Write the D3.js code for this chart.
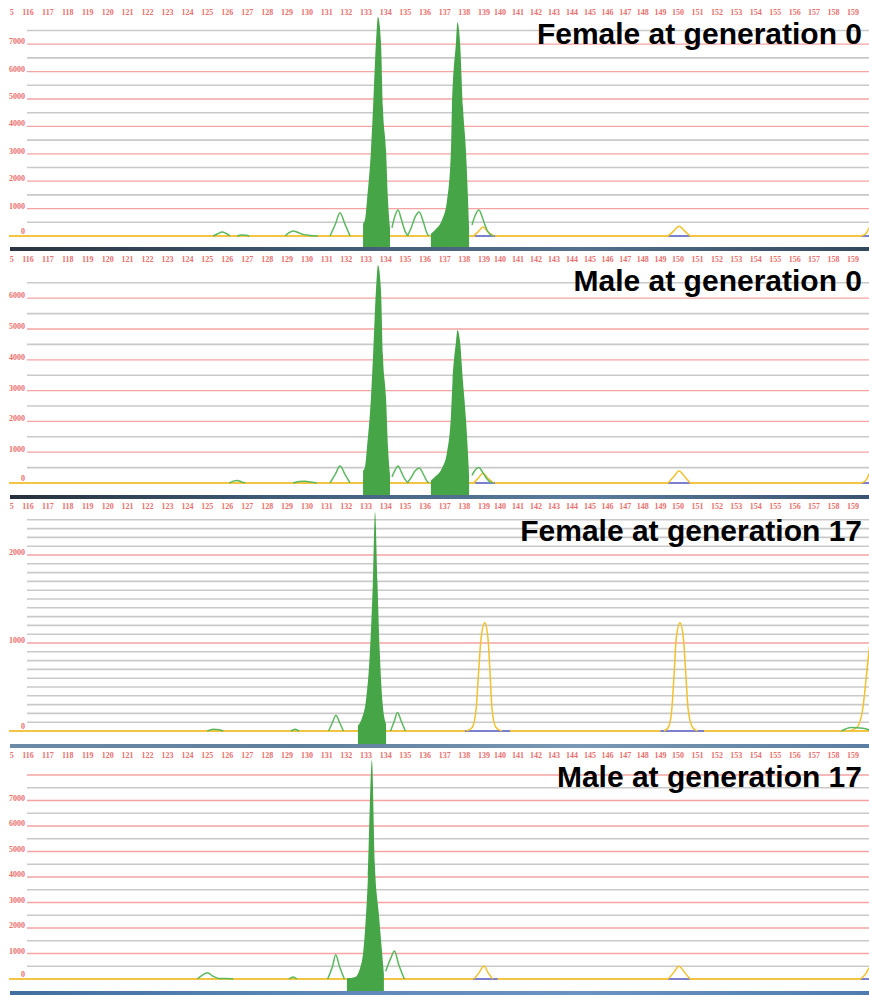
<!DOCTYPE html>
<html>
<head>
<meta charset="utf-8">
<script src="https://cdn.jsdelivr.net/npm/d3@7"></script>
<style>
  body { margin: 0; background: #fff; }
  svg { display: block; }
</style>
</head>
<body>
<div id="chart"></div>
<script>
// bp labels along the top of every panel
const tickLabels = [115,116,117,118,119,120,121,122,123,124,125,126,127,128,129,130,131,132,133,134,135,136,137,
  138,139,140,141,142,143,144,145,146,147,148,149,150,151,152,153,154,155,156,157,158,159];

const panelTitles = ["Female at generation 0", "Male at generation 0", "Female at generation 17", "Male at generation 17"];

// labelled RFU values on the left of each panel
const yLabels = [
  [0, 1000, 2000, 3000, 4000, 5000, 6000, 7000],
  [0, 1000, 2000, 3000, 4000, 5000, 6000],
  [0, 1000, 2000],
  [0, 1000, 2000, 3000, 4000, 5000, 6000, 7000]
];

// ---- Female gen 0 ----
const f0Filled = [
  [[132.85,450],[132.95,600],[133.05,1300],[133.25,3100],[133.36,4700],[133.51,7100],[133.61,8000],[133.76,7100],[133.86,4700],[134.02,3100],[134.12,1300],[134.22,300]],
  [[136.3,80],[136.51,220],[136.86,580],[137.12,1300],[137.32,3140],[137.37,4700],[137.58,7100],[137.65,7800],[137.78,7100],[137.93,4700],[138.08,3140],[138.19,1300],[138.24,300]]
];
const f0Green = [
  [[125.29,0],[125.55,90],[125.74,150],[125.95,90],[126.14,0]],
  [[126.5,0],[126.7,40],[126.95,30],[127.1,0]],
  [[128.9,0],[129.1,120],[129.3,180],[129.55,130],[129.8,60],[130.15,20],[130.55,0]],
  [[131.17,0],[131.45,450],[131.68,850],[131.92,450],[132.19,0]],
  [[134.32,300],[134.48,750],[134.63,950],[134.8,600],[135.0,150],[135.15,0]],
  [[135.1,0],[135.3,300],[135.5,700],[135.71,880],[135.92,500],[136.1,100],[136.2,0]],
  [[138.39,400],[138.55,750],[138.74,950],[138.95,600],[139.2,200],[139.45,30],[139.56,0]]
];
const f0Yellow = [
  [[138.45,0],[138.7,150],[138.95,330],[139.25,150],[139.6,0]],
  [[149.43,0],[149.75,180],[150.05,360],[150.35,180],[150.62,0]],
  [[159.45,0],[159.7,120],[159.83,290],[160.0,420]]
];
const f0Blue = [[138.55,139.69],[149.43,150.62],[159.45,160.5]];

// ---- Male gen 0 ----
const m0Filled = [
  [[132.85,400],[132.95,530],[133.05,1150],[133.25,2750],[133.36,4150],[133.51,6300],[133.61,7080],[133.76,6300],[133.86,4150],[134.02,2750],[134.12,1150],[134.22,270]],
  [[136.3,80],[136.51,200],[136.86,480],[137.12,1000],[137.32,2200],[137.4,3300],[137.58,4600],[137.65,4970],[137.78,4600],[137.93,3300],[138.08,2100],[138.19,900],[138.24,250]]
];
const m0Green = [
  [[126.1,0],[126.3,60],[126.5,80],[126.7,40],[126.9,0]],
  [[129.3,0],[129.6,50],[129.9,60],[130.2,30],[130.5,0]],
  [[131.17,0],[131.45,300],[131.68,550],[131.92,300],[132.19,0]],
  [[134.32,200],[134.48,420],[134.63,550],[134.8,350],[135.0,100],[135.15,0]],
  [[135.1,0],[135.3,180],[135.5,400],[135.71,490],[135.92,280],[136.1,60],[136.2,0]],
  [[138.39,250],[138.55,420],[138.74,500],[138.95,330],[139.2,120],[139.45,20],[139.56,0]]
];
const m0Yellow = [
  [[138.45,0],[138.7,150],[138.95,320],[139.25,150],[139.6,0]],
  [[149.43,0],[149.75,200],[150.05,390],[150.35,200],[150.62,0]],
  [[159.45,0],[159.7,120],[159.83,290],[160.0,420]]
];
const m0Blue = [[138.55,139.69],[149.43,150.62],[159.45,160.5]];

// ---- Female gen 17 ----
const f17Filled = [
  [[132.59,60],[132.8,150],[133.0,350],[133.2,900],[133.35,1700],[133.46,2490],[133.58,1700],[133.7,900],[133.85,300],[134.02,80]]
];
const f17Green = [
  [[125.0,0],[125.3,20],[125.6,15],[125.8,0]],
  [[129.2,0],[129.4,20],[129.6,0]],
  [[131.1,0],[131.3,100],[131.47,180],[131.65,100],[131.85,0]],
  [[134.25,0],[134.45,120],[134.6,210],[134.78,120],[135.0,0]],
  [[158.4,0],[158.9,40],[159.5,30],[160.0,0]]
];
const f17Yellow = [
  [[138.1,0],[138.4,40],[138.6,250],[138.72,650],[138.85,1050],[139.05,1230],[139.25,1050],[139.38,650],[139.5,250],[139.75,40],[140.1,0]],
  [[149.2,0],[149.45,40],[149.65,250],[149.78,650],[149.9,1050],[150.1,1230],[150.28,1050],[150.4,650],[150.52,250],[150.75,40],[151.0,0]],
  [[158.8,0],[159.2,40],[159.5,250],[159.7,650],[159.83,920],[160.0,1200]]
];
const f17Blue = [[138.03,140.56],[149.0,151.34]];

// ---- Male gen 17 ----
const m17Filled = [
  [[132.03,30],[132.45,80],[132.7,430],[132.85,1000],[132.95,1900],[133.1,4000],[133.3,8590],[133.45,4500],[133.65,2600],[133.8,1200],[133.91,200]]
];
const m17Green = [
  [[124.5,0],[124.75,150],[125.0,250],[125.3,100],[125.6,20],[126.2,10],[126.3,0]],
  [[129.1,0],[129.3,80],[129.5,0]],
  [[131.05,0],[131.3,500],[131.46,950],[131.65,500],[131.9,0]],
  [[134.0,300],[134.25,800],[134.45,1100],[134.65,600],[134.95,0]]
];
const m17Yellow = [
  [[138.5,0],[138.75,250],[139.0,510],[139.25,250],[139.55,0]],
  [[149.45,0],[149.75,250],[150.05,500],[150.35,250],[150.62,0]],
  [[159.4,0],[159.65,200],[159.85,450],[160.0,500]]
];
const m17Blue = [[138.45,139.85],[149.43,150.62],[159.4,160.5]];

const filledSets = [f0Filled, m0Filled, f17Filled, m17Filled];
const greenSets = [f0Green, m0Green, f17Green, m17Green];
const yellowSets = [f0Yellow, m0Yellow, f17Yellow, m17Yellow];
const blueSets = [f0Blue, m0Blue, f17Blue, m17Blue];

// panel geometry (pixels)
const layout = [
  { tick: 15,  base: 236, per1000: 27.4, step: 500, top: 7500, bar: 247, title: 44 },
  { tick: 262, base: 483, per1000: 30.8, step: 500, top: 6500, bar: 495, title: 291 },
  { tick: 509, base: 731, per1000: 88,   step: 100, top: 2400, bar: 744, title: 541 },
  { tick: 758, base: 979, per1000: 25.5, step: 500, top: 8000, bar: 991, title: 787 }
];

const W = 869, H = 995;
const gridLeft = 27;

const svg = d3.select("#chart").append("svg")
  .attr("width", W)
  .attr("height", H);

// bp scale is not quite linear on the instrument, so use a piecewise scale
const x = d3.scaleLinear()
  .domain([115, 130, 139, 140, 145, 150, 159])
  .range([8, 307, 484, 500, 590, 678, 853]);

const defs = svg.append("defs");

// the trace window starts at x=10, labels left of it are cut
defs.append("clipPath").attr("id", "view")
  .append("rect")
  .attr("x", 10).attr("y", 0)
  .attr("width", W - 10).attr("height", H);

// gradients for the dark bars under each panel
const barColors = [
  ["#2b3440", "#3f5870", "#55708c", "#34485c"],
  ["#26303b", "#41607e", "#5b7c9c", "#3a5370"],
  ["#6d8aa6", "#5f7f9f", "#7b98b4", "#5a7da2"],
  ["#3f6e9f", "#5b86b8", "#6a93c2", "#4f7db0"]
];
barColors.forEach((cols, i) => {
  const g = defs.append("linearGradient").attr("id", "bar" + i);
  cols.forEach((c, j) => g.append("stop")
    .attr("offset", (j / (cols.length - 1) * 100) + "%")
    .attr("stop-color", c));
});

layout.forEach((L, i) => {
  const g = svg.append("g");
  const y = d3.scaleLinear().domain([0, 1000]).range([L.base, L.base - L.per1000]);

  // grid lines
  const gridVals = d3.range(L.step, L.top + 1, L.step);
  g.selectAll("line.grid")
    .data(gridVals)
    .join("line")
    .attr("class", "grid")
    .attr("x1", gridLeft)
    .attr("x2", W)
    .attr("y1", d => y(d))
    .attr("y2", d => y(d))
    .attr("stroke", d => d % 1000 === 0 ? "#f5a3a3" : "#c9c9c9")
    .attr("stroke-width", d => d % 1000 === 0 ? 1.3 : 1.6);

  // baseline
  g.append("line")
    .attr("x1", 9).attr("x2", W)
    .attr("y1", L.base).attr("y2", L.base)
    .attr("stroke", "#f4c542")
    .attr("stroke-width", 1.8);

  const line = d3.line()
    .x(d => x(d[0]))
    .y(d => y(d[1]))
    .curve(d3.curveMonotoneX);

  // blue base segments under the size-standard peaks
  g.selectAll("line.blue")
    .data(blueSets[i])
    .join("line")
    .attr("class", "blue")
    .attr("x1", d => x(d[0]))
    .attr("x2", d => x(d[1]))
    .attr("y1", L.base).attr("y2", L.base)
    .attr("stroke", "#7b7fd0")
    .attr("stroke-width", 2);

  // yellow peaks
  g.selectAll("path.yellow")
    .data(yellowSets[i])
    .join("path")
    .attr("class", "yellow")
    .attr("d", line)
    .attr("fill", "none")
    .attr("stroke", "#f2c12e")
    .attr("stroke-width", 1.5);

  // green outline peaks
  g.selectAll("path.green")
    .data(greenSets[i])
    .join("path")
    .attr("class", "green")
    .attr("d", line)
    .attr("fill", "none")
    .attr("stroke", "#5cb85f")
    .attr("stroke-width", 1.5);

  // called alleles: filled down to the bar
  const area = d3.area()
    .x(d => x(d[0]))
    .y0(L.bar)
    .y1(d => y(d[1]))
    .curve(d3.curveMonotoneX);

  g.selectAll("path.filled")
    .data(filledSets[i])
    .join("path")
    .attr("class", "filled")
    .attr("d", area)
    .attr("fill", "#45a547");

  // dark bar
  g.append("rect")
    .attr("x", 10)
    .attr("y", L.bar)
    .attr("width", W - 10)
    .attr("height", 4)
    .attr("fill", `url(#bar${i})`);

  // top bp labels
  g.append("g")
    .attr("clip-path", "url(#view)")
    .selectAll("text.tick")
    .data(tickLabels)
    .join("text")
    .attr("class", "tick")
    .attr("x", d => x(d))
    .attr("y", L.tick)
    .attr("text-anchor", "middle")
    .style("font-family", "'Liberation Serif', 'Times New Roman', serif")
    .style("font-size", "8px")
    .style("font-weight", "bold")
    .style("fill", "#e8706c")
    .text(d => d);

  // y labels
  g.selectAll("text.ylab")
    .data(yLabels[i])
    .join("text")
    .attr("class", "ylab")
    .attr("x", 25)
    .attr("y", d => y(d) - (d === 0 ? 2 : 0))
    .attr("text-anchor", "end")
    .style("font-family", "'Liberation Serif', 'Times New Roman', serif")
    .style("font-size", "8px")
    .style("font-weight", "bold")
    .style("fill", "#e8706c")
    .text(d => d);

  // title
  g.append("text")
    .attr("x", 862)
    .attr("y", L.title)
    .attr("text-anchor", "end")
    .style("font-family", "'Liberation Sans', Arial, sans-serif")
    .style("font-size", "30px")
    .style("font-weight", "bold")
    .style("fill", "#000")
    .text(panelTitles[i]);
});
</script>
</body>
</html>
